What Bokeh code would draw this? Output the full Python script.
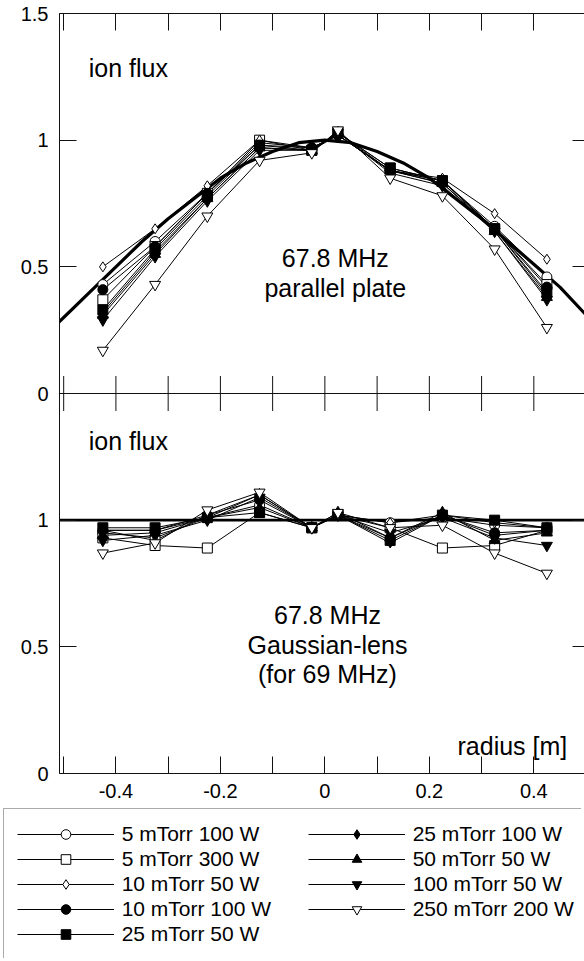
import numpy as np
from bokeh.plotting import figure
from bokeh.models import (Range1d, LinearAxis, FixedTicker, Label, Span, Legend,
                          LegendItem)
from bokeh.layouts import column
from bokeh.embed import file_html
from bokeh.resources import INLINE

FONT = "Liberation Sans"

# ---------------- data ----------------
radius = [-0.425, -0.325, -0.225, -0.125, -0.025, 0.025, 0.125, 0.225, 0.325, 0.425]

series_labels = ["5 mTorr 100 W", "5 mTorr 300 W", "10 mTorr 50 W", "10 mTorr 100 W",
                 "25 mTorr 50 W", "25 mTorr 100 W", "50 mTorr 50 W", "100 mTorr 50 W",
                 "250 mTorr 200 W"]
series_markers = ["circle", "square", "diamond", "circle", "square", "diamond",
                  "triangle", "inverted_triangle", "inverted_triangle"]
series_filled = [False, False, False, True, True, True, True, True, False]

# upper panel: 67.8 MHz parallel plate
pp_5mT_100W = [0.43, 0.60, 0.79, 0.99, 0.97, 1.02, 0.88, 0.84, 0.66, 0.46]
pp_5mT_300W = [0.37, 0.58, 0.79, 1.00, 0.96, 1.03, 0.89, 0.84, 0.65, 0.43]
pp_10mT_50W = [0.50, 0.65, 0.82, 1.00, 0.97, 1.02, 0.88, 0.85, 0.71, 0.53]
pp_10mT_100W = [0.41, 0.58, 0.79, 0.98, 0.97, 1.02, 0.88, 0.84, 0.65, 0.42]
pp_25mT_50W = [0.33, 0.57, 0.78, 0.98, 0.96, 1.03, 0.89, 0.84, 0.65, 0.40]
pp_25mT_100W = [0.32, 0.56, 0.77, 0.97, 0.96, 1.02, 0.88, 0.83, 0.65, 0.39]
pp_50mT_50W = [0.31, 0.55, 0.77, 0.97, 0.96, 1.03, 0.88, 0.83, 0.64, 0.38]
pp_100mT_50W = [0.29, 0.54, 0.76, 0.96, 0.96, 1.03, 0.87, 0.82, 0.64, 0.37]
pp_250mT_200W = [0.17, 0.43, 0.70, 0.92, 0.95, 1.04, 0.85, 0.78, 0.57, 0.26]

# lower panel: 67.8 MHz Gaussian-lens
gl_5mT_100W = [0.95, 0.93, 1.01, 1.06, 0.97, 1.02, 0.99, 1.01, 0.98, 0.97]
gl_5mT_300W = [0.93, 0.90, 0.89, 1.03, 0.97, 1.02, 0.97, 0.89, 0.90, 0.96]
gl_10mT_50W = [0.96, 0.92, 1.02, 1.10, 0.97, 1.02, 0.99, 1.02, 0.99, 0.97]
gl_10mT_100W = [0.96, 0.96, 1.02, 1.08, 0.97, 1.02, 0.93, 1.02, 0.95, 0.96]
gl_25mT_50W = [0.97, 0.97, 1.01, 1.03, 0.97, 1.02, 0.92, 1.02, 1.00, 0.97]
gl_25mT_100W = [0.96, 0.96, 1.01, 1.05, 0.97, 1.02, 0.91, 1.02, 0.94, 0.96]
gl_50mT_50W = [0.94, 0.95, 1.01, 1.10, 0.97, 1.03, 0.93, 1.03, 0.92, 0.95]
gl_100mT_50W = [0.92, 0.94, 1.00, 1.09, 0.97, 1.02, 0.95, 1.01, 0.93, 0.90]
gl_250mT_200W = [0.87, 0.91, 1.04, 1.11, 0.97, 1.03, 0.97, 0.98, 0.87, 0.79]

upper_series = [pp_5mT_100W, pp_5mT_300W, pp_10mT_50W, pp_10mT_100W, pp_25mT_50W,
                pp_25mT_100W, pp_50mT_50W, pp_100mT_50W, pp_250mT_200W]
lower_series = [gl_5mT_100W, gl_5mT_300W, gl_10mT_50W, gl_10mT_100W, gl_25mT_50W,
                gl_25mT_100W, gl_50mT_50W, gl_100mT_50W, gl_250mT_200W]

# thick reference curves
ref_upper_x = [-0.51, -0.45, -0.40, -0.35, -0.30, -0.25, -0.20, -0.15, -0.10, -0.05, 0.0,
               0.05, 0.10, 0.15, 0.20, 0.25, 0.30, 0.35, 0.40, 0.45, 0.50]
ref_upper_y = [0.28, 0.40, 0.50, 0.60, 0.69, 0.77, 0.85, 0.91, 0.955, 0.99, 1.0,
               0.99, 0.955, 0.91, 0.85, 0.77, 0.69, 0.60, 0.51, 0.42, 0.31]
ref_lower_x = [-0.51, 0.50]
ref_lower_y = [1.0, 1.0]

# axes
x_major_ticks = [-0.4, -0.2, 0.0, 0.2, 0.4]
x_major_labels = ["-0.4", "-0.2", "0", "0.2", "0.4"]
x_minor_ticks = [-0.5, -0.3, -0.1, 0.1, 0.3, 0.5]
x_all_ticks = [-0.5, -0.4, -0.3, -0.2, -0.1, 0.0, 0.1, 0.2, 0.3, 0.4, 0.5]
# lower panel occupies 0..1.5, upper panel 1.5..3 on the shared left axis
y_tick_pos = [0.0, 0.5, 1.0, 1.5, 2.0, 2.5, 3.0]
y_tick_labels = ["0", "0.5", "1", "0", "0.5", "1", "1.5"]
y_right_ticks = [0.5, 1.0, 2.0, 2.5]
panel_boundary = 1.5

X_RANGE = (-0.508, 0.497)

# ---------------- main figure ----------------
p = figure(frame_width=525, frame_height=760,
           x_range=Range1d(*X_RANGE), y_range=Range1d(0, 3),
           x_axis_type=None, y_axis_type=None, output_backend="svg",
           toolbar_location=None, min_border_left=59, min_border_right=0,
           min_border_top=13, min_border_bottom=35)
p.extra_y_ranges = {"top": Range1d(-1.5, 1.5)}
p.outline_line_color = None
p.background_fill_color = "white"
p.border_fill_color = "white"

AX = "#111111"

def base_axis(**kw):
    d = dict(axis_line_color=AX, major_tick_line_color=AX, minor_tick_line_color=AX,
             major_tick_out=0, minor_tick_out=0,
             major_label_text_font=FONT, major_label_text_color="black")
    d.update(kw)
    return LinearAxis(**d)

bottom_ax = base_axis(ticker=FixedTicker(ticks=x_major_ticks, minor_ticks=x_minor_ticks),
                      major_tick_in=17, minor_tick_in=17, major_label_standoff=10,
                      major_label_text_font_size="20px",
                      major_label_overrides=dict(zip(x_major_ticks, x_major_labels)))
p.add_layout(bottom_ax, "below")

# top edge: ticks only (as minor ticks, so no labels are drawn)
top_ax = base_axis(ticker=FixedTicker(ticks=[], minor_ticks=x_all_ticks),
                   minor_tick_in=17, major_label_standoff=0)
p.add_layout(top_ax, "above")

left_ax = base_axis(ticker=FixedTicker(ticks=y_tick_pos, minor_ticks=[]),
                    major_tick_in=17, major_label_standoff=11,
                    major_label_text_font_size="20px",
                    major_label_overrides=dict(zip(y_tick_pos, y_tick_labels)))
p.add_layout(left_ax, "left")

right_ax = base_axis(ticker=FixedTicker(ticks=[], minor_ticks=y_right_ticks),
                     axis_line_color=None, minor_tick_in=12, major_label_standoff=0)
p.add_layout(right_ax, "right")

# divider between the panels, with ticks both ways
p.add_layout(Span(location=panel_boundary, dimension="width", line_color=AX, line_width=1))
p.scatter(x=x_all_ticks, y=[panel_boundary] * len(x_all_ticks), marker="dash",
          angle=np.pi / 2, size=35, line_color=AX, line_width=1)

# thick reference curves
p.line(ref_upper_x, ref_upper_y, y_range_name="top", line_color="black", line_width=3.2)
p.line(ref_lower_x, ref_lower_y, line_color="black", line_width=2.6)

# data lines
for ys in upper_series:
    p.line(radius, ys, y_range_name="top", line_color="black", line_width=1)
for ys in lower_series:
    p.line(radius, ys, line_color="black", line_width=1)

# markers
for ys_u, ys_l, mk, filled in zip(upper_series, lower_series, series_markers, series_filled):
    size = 11 if "triangle" in mk else 10
    fc = "black" if filled else "white"
    p.scatter(radius, ys_u, y_range_name="top", marker=mk, size=size,
              fill_color=fc, line_color="black", line_width=1)
    p.scatter(radius, ys_l, marker=mk, size=size,
              fill_color=fc, line_color="black", line_width=1)

def add_label(x, y, text, rng="default", align="left"):
    p.add_layout(Label(x=x, y=y, y_range_name=rng, text=text, text_font=FONT,
                       text_font_size="25px", text_align=align,
                       text_baseline="alphabetic", text_color="black"))

add_label(-0.452, 1.284, "ion flux", rng="top")
add_label(0.02, 0.533, "67.8 MHz", rng="top", align="center")
add_label(0.02, 0.415, "parallel plate", rng="top", align="center")
add_label(-0.452, 1.314, "ion flux")
add_label(0.005, 0.627, "67.8 MHz", align="center")
add_label(0.005, 0.509, "Gaussian-lens", align="center")
add_label(0.005, 0.391, "(for 69 MHz)", align="center")
add_label(0.464, 0.107, "radius [m]", align="right")

# ---------------- legend strip ----------------
# the series are drawn again here only so the legend can show their glyphs;
# the y range lies below the data, so nothing but the legend is visible
lf = figure(frame_width=576, frame_height=150, x_range=Range1d(0, 1),
            y_range=Range1d(-2, -1), x_axis_type=None, y_axis_type=None,
            output_backend="svg", toolbar_location=None, min_border_left=8,
            min_border_right=0, min_border_top=0, min_border_bottom=0)
lf.outline_line_color = None
items = []
for name, ys, mk, filled in zip(series_labels, upper_series, series_markers, series_filled):
    fc = "black" if filled else "white"
    lr = lf.line(radius, ys, line_color="black", line_width=1)
    sr = lf.scatter(radius, ys, marker=mk, size=10, fill_color=fc,
                    line_color="black", line_width=1)
    items.append(LegendItem(label=name, renderers=[lr, sr]))

legend = Legend(items=items, location="top_left", orientation="vertical", nrows=5,
                margin=0, padding=13, spacing=1, glyph_width=97, glyph_height=24,
                label_height=24, label_width=185, label_standoff=8,
                label_text_font=FONT, label_text_font_size="21px",
                label_text_color="black", border_line_color="#555555",
                border_line_width=1.5, background_fill_color="white",
                background_fill_alpha=1.0)
lf.add_layout(legend)

open("out.html", "w").write(file_html(column(p, lf, spacing=0), INLINE))
